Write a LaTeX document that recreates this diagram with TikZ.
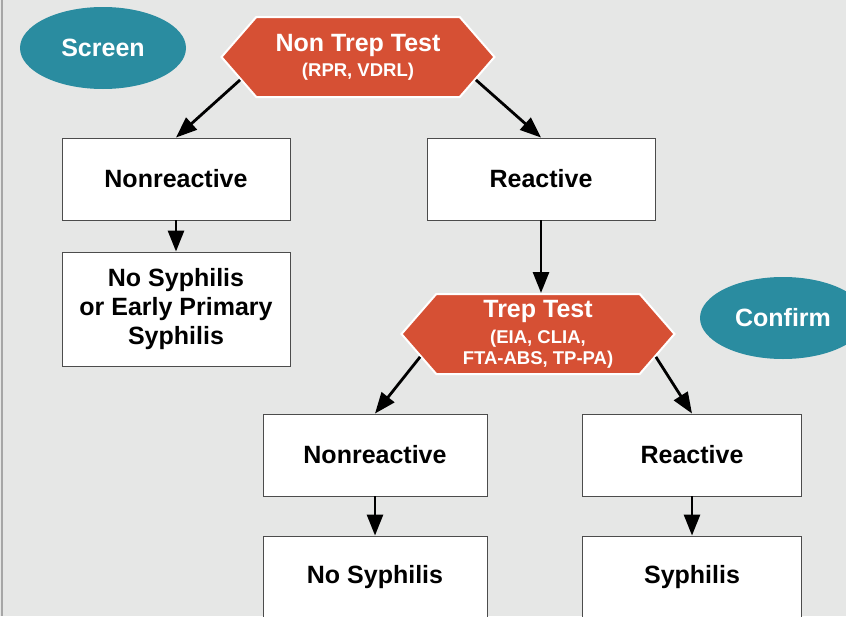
\documentclass[tikz,border=0pt]{standalone}
\usepackage{fontspec}
\setmainfont{Liberation Sans}
\usepackage{tikz}
\usetikzlibrary{arrows.meta,positioning,shapes.symbols,shapes.geometric}
\definecolor{bgray}{HTML}{E6E7E6}
\definecolor{phaseteal}{HTML}{2A8CA0}
\definecolor{brick}{HTML}{D65034}
\newcommand{\subtxt}[1]{{\fontsize{18.5}{20}\selectfont #1}}

\begin{document}
\begin{tikzpicture}[x=1pt,y=-1pt, every node/.style={font=\bfseries\fontsize{25}{29}\selectfont},
  result/.style={draw=black!70,line width=0.9pt,fill=white,minimum width=228pt,
  minimum height=82pt,align=center,inner sep=2pt},
  test/.style={shape=signal,signal to=west and east,signal pointer angle=98,
  fill=brick,draw=white,line width=2pt,text=white,align=center,minimum
  width=273pt,minimum height=80pt,inner sep=1pt},
  phase/.style={ellipse,fill=phaseteal,text=white,minimum width=166pt,minimum height=82pt},
  edge/.style={-{Triangle[length=21pt,width=16pt]},line width=2.8pt}]
  \clip (0,0) rectangle (846,616); \fill[bgray] (0,0) rectangle (846,616);
  \draw[black!35,line width=2pt] (2,0) -- (2,616);
  \node[phase] (screen) at (103,48) {Screen}; \node[test] (nontrep) at (358,57)
  {Non Trep Test\\[-4pt]\subtxt{(RPR, VDRL)}}; \node[result] (nonreact) at
  (176,179) {Nonreactive}; \node[result] (react) at (541,179) {Reactive};
  \node[result,minimum height=114pt] (early) at (176,309) {No Syphilis\\or
  Early Primary\\Syphilis}; \node[test] (trep) at (538,334) {Trep Test\\[-3pt]%
  \subtxt{(EIA, CLIA,}\\[-8pt]\subtxt{FTA-ABS, TP-PA)}}; \node[phase] (confirm) at (783,318)
  {Confirm}; \node[result,minimum width=224pt] (nonreacttwo) at (375,455)
  {Nonreactive}; \node[result,minimum width=219pt] (reacttwo) at (692,455)
  {Reactive}; \node[result,minimum width=224pt] (nosyph) at (375,577) {No
  Syphilis}; \node[result,minimum width=219pt] (syph) at (692,577) {Syphilis};
  \draw[edge] (nontrep.191) -- (nonreact.north); \draw[edge] (nontrep.349) --
  (react.north); \draw[edge] (nonreact) -- (early); \draw[edge] (react) --
  (react|-trep.north); \draw[edge] (trep.191) -- (nonreacttwo.north);
  \draw[edge] (trep.349) -- (reacttwo.north); \draw[edge] (nonreacttwo) --
  (nosyph); \draw[edge] (reacttwo) -- (syph); \end{tikzpicture}
\end{document}
